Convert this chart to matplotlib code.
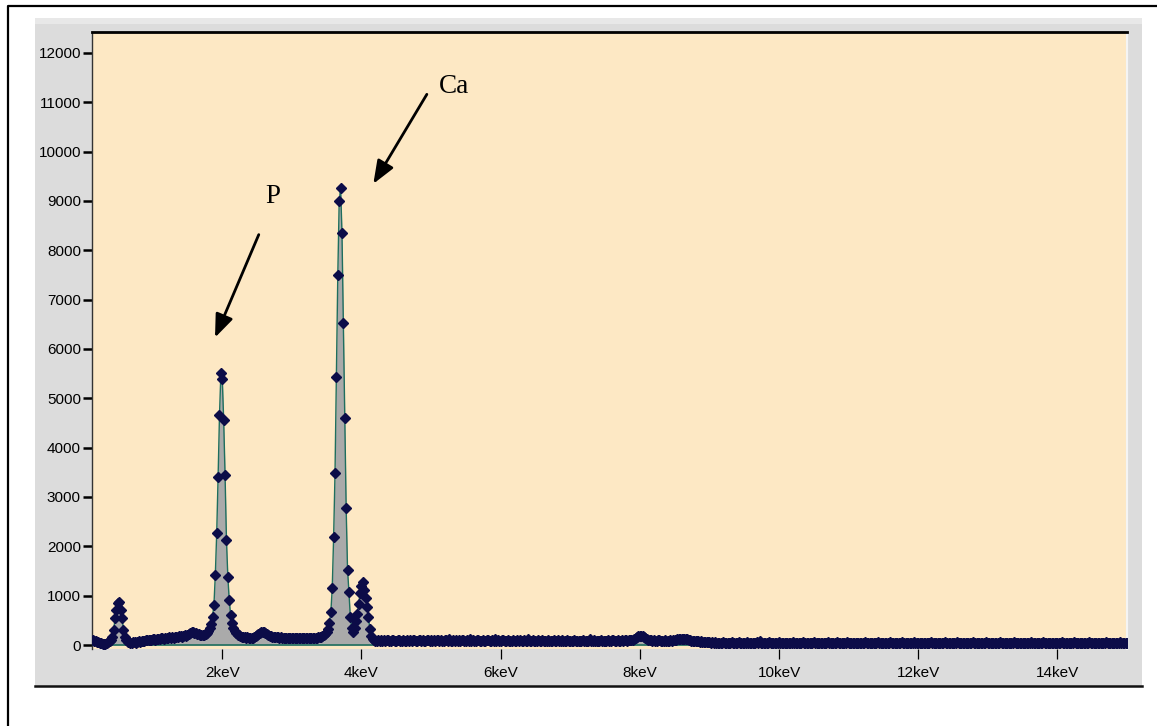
import numpy as np
import matplotlib
matplotlib.use("Agg")
import matplotlib.pyplot as plt
from matplotlib.patches import Rectangle
from matplotlib.lines import Line2D

# EDS spectrum, channels of 0.02 keV starting at 0.14 keV
energy_start = 0.14
energy_step = 0.02

# 0.14 - 1.62 keV (O peak + low background)
counts_low = [
    110, 90, 75, 60, 55, 45, 35, 25, 15, 20, 35, 55, 75, 100, 160, 300, 550, 710, 860, 880, 710, 550, 300, 170, 95,
    60, 55, 50, 45, 55, 60, 50, 65, 75, 70, 85, 90, 80, 95, 100, 110, 100, 105, 120, 115, 110, 125, 130, 120, 135,
    140, 130, 145, 150, 140, 155, 150, 160, 150, 165, 170, 160, 175, 180, 170, 185, 195, 190, 210, 230, 250, 260, 255, 245, 235,
]
# 1.64 - 3.12 keV (P peak)
counts_p = [
    225, 215, 210, 205, 200, 210, 220, 250, 290, 340, 420, 575, 810, 1420, 2270, 3410, 4660, 5510, 5400, 4560, 3445, 2130, 1385, 910, 610,
    440, 340, 280, 240, 210, 195, 180, 170, 165, 160, 150, 155, 145, 150, 145, 150, 165, 180, 200, 225, 245, 260, 265, 255, 240,
    225, 205, 190, 175, 170, 165, 160, 155, 160, 150, 155, 150, 145, 150, 145, 150, 140, 145, 150, 140, 145, 140, 135, 145, 140,
]
# 3.14 - 4.62 keV (Ca Ka / Kb)
counts_ca = [
    140, 145, 135, 140, 145, 140, 135, 140, 145, 140, 150, 145, 155, 160, 170, 185, 205, 230, 260, 330, 450, 670, 1150, 2190, 3490,
    5430, 7500, 8990, 9260, 8350, 6530, 4600, 2780, 1520, 1080, 560, 350, 270, 345, 480, 620, 830, 1050, 1200, 1270, 1120, 950, 780, 560, 330,
    180, 120, 95, 90, 85, 95, 90, 100, 85, 95, 90, 100, 95, 85, 90, 100, 95, 90, 85, 95, 100, 90, 85, 95, 90,
]
# 4.64 - 9.12 keV
counts_mid = [
    90, 95, 85, 100, 90, 95, 105, 90, 85, 95, 100, 90, 95, 85, 90, 110, 95, 90, 100, 85, 95, 90, 100, 95, 90,
    95, 85, 90, 100, 95, 90, 120, 90, 85, 95, 90, 100, 85, 95, 90, 95, 100, 90, 85, 95, 90, 125, 90, 95, 85,
    90, 95, 100, 85, 90, 95, 90, 85, 100, 95, 90, 85, 95, 90, 115, 90, 95, 85, 90, 95, 100, 90, 85, 95, 90,
    85, 90, 95, 90, 85, 95, 90, 100, 85, 90, 95, 85, 90, 120, 90, 85, 95, 90, 85, 90, 95, 85, 90, 95, 85,
    90, 85, 95, 90, 85, 90, 95, 85, 90, 110, 85, 90, 95, 85, 90, 85, 95, 90, 85, 90, 85, 95, 90, 85, 90,
    85, 90, 95, 85, 90, 85, 90, 120, 85, 90, 95, 85, 90, 85, 90, 95, 85, 90, 85, 90, 95, 85, 90, 100, 95,
    90, 85, 95, 90, 85, 95, 90, 100, 95, 90, 100, 95, 100, 110, 120, 140, 165, 180, 190, 185, 175, 160, 140, 120, 105,
    100, 95, 90, 95, 90, 85, 100, 95, 90, 85, 90, 95, 90, 85, 90, 95, 90, 95, 100, 105, 115, 120, 125, 130, 125,
    125, 120, 115, 105, 95, 90, 85, 90, 80, 75, 85, 70, 75, 65, 60, 65, 55, 60, 55, 50, 55, 50, 55, 50, 45,
]
# 9.14 - 15.12 keV
counts_tail = [
    50, 45, 50, 55, 50, 45, 50, 50, 45, 55, 50, 45, 50, 50, 55, 45, 50, 50, 45, 50, 55, 50, 45, 50, 50,
    45, 50, 55, 50, 85, 50, 45, 50, 50, 45, 50, 55, 45, 50, 50, 45, 50, 50, 55, 45, 50, 45, 50, 50, 45,
    50, 50, 45, 55, 50, 45, 50, 45, 50, 50, 55, 45, 50, 50, 45, 50, 45, 50, 55, 50, 45, 50, 50, 45, 50,
    45, 50, 50, 55, 45, 50, 45, 50, 50, 45, 55, 50, 45, 50, 50, 45, 50, 55, 50, 45, 50, 45, 50, 50, 45,
    50, 45, 50, 50, 45, 55, 50, 45, 50, 45, 50, 50, 45, 50, 55, 45, 50, 50, 45, 50, 45, 50, 50, 55, 45,
    50, 45, 50, 50, 45, 50, 55, 45, 50, 45, 50, 50, 45, 50, 45, 55, 50, 45, 50, 50, 45, 50, 45, 50, 50,
    45, 50, 55, 45, 50, 50, 45, 50, 45, 50, 50, 45, 55, 50, 45, 50, 45, 50, 50, 45, 50, 55, 45, 50, 50,
    45, 50, 45, 50, 50, 45, 50, 55, 45, 50, 45, 50, 50, 45, 50, 45, 50, 55, 50, 45, 50, 45, 50, 50, 45,
    50, 45, 55, 50, 45, 50, 50, 45, 50, 45, 50, 50, 55, 45, 50, 45, 50, 50, 45, 50, 45, 50, 50, 45, 55,
    50, 45, 50, 45, 50, 50, 45, 50, 55, 45, 50, 45, 50, 50, 45, 50, 45, 50, 50, 45, 50, 55, 45, 50, 45,
    50, 50, 45, 50, 45, 55, 50, 45, 50, 50, 45, 50, 45, 50, 50, 45, 55, 50, 45, 50, 45, 50, 50, 45, 50,
    45, 50, 50, 55, 45, 50, 45, 50, 50, 45, 50, 45, 50, 55, 50, 45, 50, 45, 50, 50, 45, 50, 45, 50, 50,
]

y_ticks = list(range(0, 12001, 1000))
x_ticks = [2, 4, 6, 8, 10, 12, 14]
x_labels = ["2keV", "4keV", "6keV", "8keV", "10keV", "12keV", "14keV"]

counts = np.array(counts_low + counts_p + counts_ca + counts_mid + counts_tail, dtype=float)
energy = energy_start + energy_step * np.arange(len(counts))

W, H = 1157, 726
fig = plt.figure(figsize=(W / 100, H / 100), dpi=100)
fig.patch.set_facecolor("white")

def fx(px):
    return px / W

def fy(py):
    return 1 - py / H

# gray panel + frame lines
fig.patches.append(Rectangle((fx(35), fy(686)), (1142 - 35) / W, (686 - 18) / H,
                             transform=fig.transFigure, facecolor="#dcdcdc",
                             edgecolor="none", zorder=-2))
fig.patches.append(Rectangle((fx(35), fy(24)), (1142 - 35) / W, 6 / H,
                             transform=fig.transFigure, facecolor="#e8e8e8",
                             edgecolor="none", zorder=-1))
fig.lines.append(Line2D([fx(35), fx(1142)], [fy(686), fy(686)], transform=fig.transFigure,
                        color="#111111", lw=1.8))
fig.lines.append(Line2D([fx(8), fx(8), fx(1157)], [fy(726), fy(6), fy(6)],
                        transform=fig.transFigure, color="black", lw=1.6))

ax = fig.add_axes([fx(92), fy(649), (1127 - 92) / W, (649 - 32) / H])
ax.set_zorder(5)
ax.set_facecolor("#fde8c4")

ax.fill_between(energy, counts, 0, color="#aaaaaa", lw=0, zorder=2)
ax.axhline(0, color="#1e6e5e", lw=1.2, zorder=3)
ax.plot(energy, counts, color="#1e6e5e", lw=1.0, marker="D", markersize=5,
        markerfacecolor="#0c0c48", markeredgecolor="#0c0c48", zorder=4)

ax.set_xlim(0.128, 15.0)
ax.set_ylim(-81, 12425)

ax.set_yticks(y_ticks)
ax.set_yticklabels([str(v) for v in y_ticks])
ax.set_xticks(x_ticks)
ax.set_xticklabels(x_labels)
ax.tick_params(axis="y", direction="out", length=6.5, width=1.8, pad=1.5,
               labelsize=11, colors="black")
ax.tick_params(axis="x", direction="out", length=7.5, width=0.9, pad=5,
               labelsize=11, colors="black")
for lab in ax.get_xticklabels() + ax.get_yticklabels():
    lab.set_fontfamily("Liberation Sans")

ax.spines["top"].set_color("black")
ax.spines["top"].set_linewidth(2)
ax.spines["left"].set_color("#333333")
ax.spines["left"].set_linewidth(1)
ax.spines["right"].set_color("#f4f4f4")
ax.spines["right"].set_linewidth(1.5)
ax.spines["bottom"].set_visible(False)

# peak labels
arrow = dict(arrowstyle="-|>,head_length=1.4,head_width=0.55", color="black", lw=2)
ax.annotate("", xy=(1.88, 6180), xytext=(2.54, 8370), arrowprops=arrow)
ax.text(2.72, 9100, "P", fontsize=19.5, fontfamily="Liberation Serif", ha="center", va="center")
ax.annotate("", xy=(4.15, 9300), xytext=(4.96, 11210), arrowprops=arrow)
ax.text(5.33, 11330, "Ca", fontsize=19.5, fontfamily="Liberation Serif", ha="center", va="center")

fig.savefig("out.png", dpi=100)
